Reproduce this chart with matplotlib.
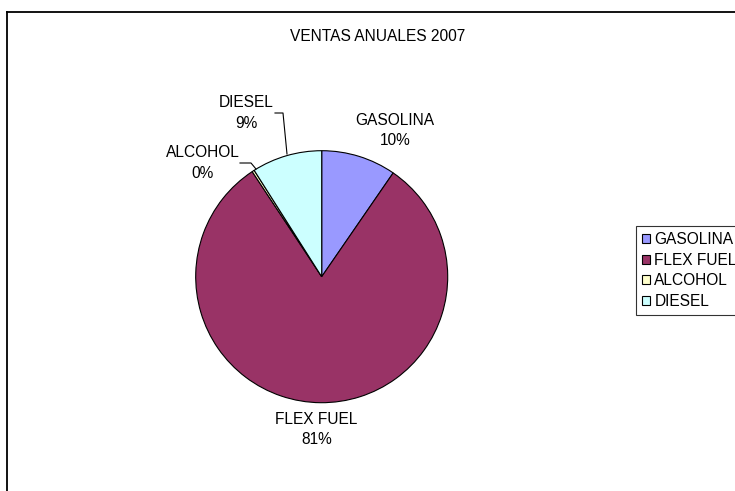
import matplotlib.pyplot as plt
from matplotlib.lines import Line2D

plt.rcParams['font.family'] = ['Liberation Sans', 'DejaVu Sans']

# data (share of annual sales, %)
categories = ['GASOLINA', 'FLEX FUEL', 'ALCOHOL', 'DIESEL']
values = [9.6, 81.1, 0.3, 9.0]
pct_labels = ['10%', '81%', '0%', '9%']
colors = ['#9999FF', '#993366', '#FFFFCC', '#CCFFFF']

W, H = 735, 491
FS = 11.2
fig = plt.figure(figsize=(W / 100, H / 100), dpi=100)
ax = fig.add_axes([0, 0, 1, 1])

# pixel coords helper (y from top)
def py(y):
    return H - y

cx, cy, r = 321.7, 276.7, 126
wedges, _ = ax.pie(values, colors=colors, startangle=90, counterclock=False,
                   center=(cx, py(cy)), radius=r,
                   wedgeprops=dict(edgecolor='black', linewidth=0.8))
ax.set_xlim(0, W)
ax.set_ylim(0, H)
ax.set_aspect('equal')
ax.axis('off')

# chart frame (cut off at right / bottom)
ax.add_line(Line2D([7.5, 7.5], [py(11.5), py(H + 5)], color='black', lw=1.3))
ax.add_line(Line2D([7.5, W + 5], [py(11.5), py(11.5)], color='black', lw=1.3))

ax.text(378, py(36), 'VENTAS ANUALES 2007', ha='center', va='center', fontsize=FS)

# data labels (name line y, pct line y)
label_pos = {'GASOLINA': (395, 120, 140), 'FLEX FUEL': (316.5, 419, 439),
             'ALCOHOL': (203, 152.5, 173), 'DIESEL': (246, 102, 123)}
for cat, pct in zip(categories, pct_labels):
    x, y1, y2 = label_pos[cat]
    ax.text(x, py(y1), cat, ha='center', va='center', fontsize=FS)
    ax.text(x, py(y2), pct, ha='center', va='center', fontsize=FS)

# leader lines
ax.plot([275, 283, 287], [py(113), py(113), py(154)], color='black', lw=0.8)
ax.plot([240, 251, 256], [py(163), py(163), py(169)], color='black', lw=0.8)

leg = ax.legend(wedges, categories, loc='upper left',
                bbox_to_anchor=(636 / W, 1 - 226 / H), bbox_transform=fig.transFigure,
                fontsize=FS, frameon=True, fancybox=False, edgecolor='black',
                handlelength=0.53, handleheight=0.53, handletextpad=0.25,
                labelspacing=0.36, borderpad=0.4, borderaxespad=0)
leg.get_frame().set_linewidth(0.8)

fig.savefig('out.png', dpi=100)
